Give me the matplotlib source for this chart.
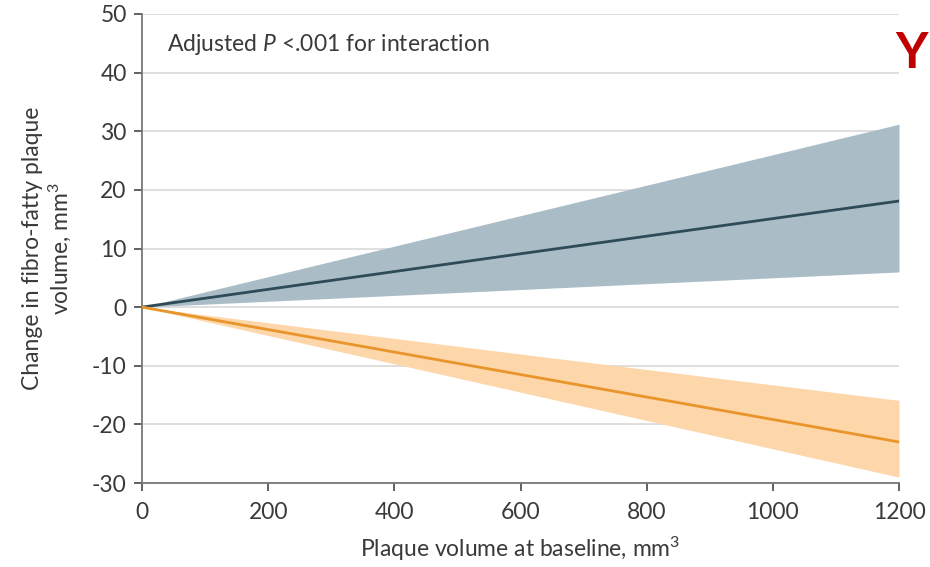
import matplotlib
matplotlib.use("Agg")
import matplotlib.pyplot as plt

plt.rcParams['font.family'] = ['Lato', 'DejaVu Sans']
plt.rcParams['axes.unicode_minus'] = False
plt.rcParams['mathtext.fontset'] = 'custom'
plt.rcParams['mathtext.it'] = 'Lato:italic'
plt.rcParams['mathtext.rm'] = 'Lato'
plt.rcParams['mathtext.default'] = 'regular'

x_vals = [0, 600, 1200]
up_line = [0, 9.1, 18.1]
up_hi = [0, 15.6, 31.2]
up_lo = [0, 3.0, 6.0]
down_line = [0, -11.5, -23.0]
down_hi = [0, -8.0, -15.9]
down_lo = [0, -14.5, -29.0]

xticks = [0, 200, 400, 600, 800, 1000, 1200]
yticks = [-30, -20, -10, 0, 10, 20, 30, 40, 50]

fig = plt.figure(figsize=(9.3, 5.67), dpi=100)
ax = fig.add_axes([142/930, 84/567, (899-142)/930, (483-14)/567])

txt = '#3a3a3a'
fs = 16.5
ax.fill_between(x_vals, up_lo, up_hi, color='#aabdc7', lw=0, zorder=2)
ax.fill_between(x_vals, down_lo, down_hi, color='#fdd6a9', lw=0, zorder=2)
ax.plot(x_vals, up_line, color='#2d4c57', lw=2, zorder=3)
ax.plot(x_vals, down_line, color='#e8962b', lw=2, zorder=3)

ax.set_xlim(0, 1200)
ax.set_ylim(-30, 50)
ax.set_xticks(xticks)
ax.set_yticks(yticks)
ax.yaxis.grid(True, color='#d9d9d9', lw=1.2, zorder=0)
ax.set_axisbelow(True)
for s in ['top', 'right']:
    ax.spines[s].set_visible(False)
for s in ['left', 'bottom']:
    ax.spines[s].set_color('#777777')
    ax.spines[s].set_linewidth(1.3)
ax.tick_params(direction='out', length=6, width=1.3, color='#555555',
               labelsize=fs, labelcolor=txt)
ax.tick_params(axis='x', pad=8)
ax.tick_params(axis='y', pad=5)

ax.set_xlabel('Plaque volume at baseline, mm$^3$', fontsize=fs, color=txt, labelpad=8)
ax.set_ylabel('Change in fibro-fatty plaque\nvolume, mm$^3$', fontsize=fs, color=txt,
              labelpad=14, linespacing=1.15)

ax.text(0.033, 0.935, 'Adjusted $\\mathit{P}$ <.001 for interaction', transform=ax.transAxes,
        fontsize=fs, color=txt, va='center', ha='left')

fig.text(928/930, 1 - 53/567, 'Y', fontsize=36, fontweight='bold', color='#c00000',
         ha='right', va='center')

fig.savefig('out.png', dpi=100)
